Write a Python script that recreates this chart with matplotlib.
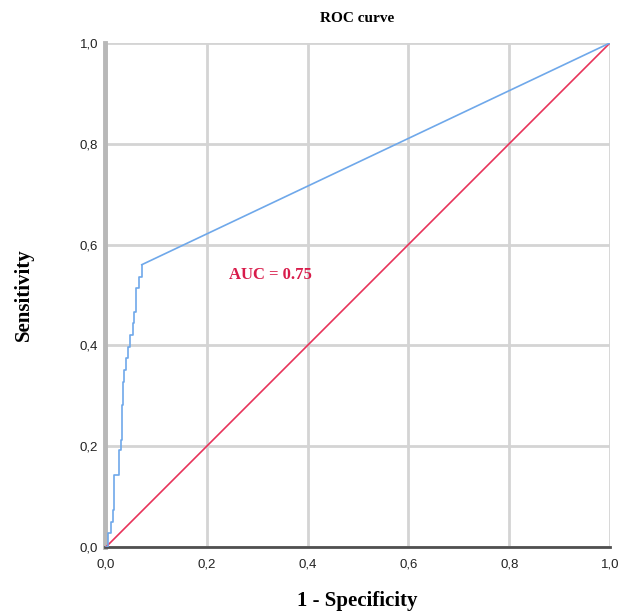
import numpy as np
import matplotlib.pyplot as plt
from matplotlib.ticker import FuncFormatter

# ROC curve corner points (fpr, tpr), stepped; last point joins (1, 1)
fpr = [0.000, 0.004, 0.009, 0.013, 0.015, 0.026, 0.030, 0.031, 0.033,
       0.036, 0.040, 0.043, 0.048, 0.053, 0.056, 0.059, 0.066, 0.071]
tpr = [0.000, 0.027, 0.050, 0.073, 0.143, 0.192, 0.212, 0.282, 0.328,
       0.351, 0.374, 0.397, 0.421, 0.444, 0.467, 0.513, 0.536, 0.560]
end_point = (1.0, 1.0)
ref_line = [0.0, 1.0]
auc = 0.75
ticks = [0.0, 0.2, 0.4, 0.6, 0.8, 1.0]

fig = plt.figure(figsize=(6.19, 6.13), dpi=100)
ax = fig.add_axes([0.1696, 0.1077, 0.8159, 0.8223])

blue = '#6fa8ea'
red = '#e8335a'

for t in ticks:
    ax.axvline(t, color='#d4d4d4', lw=2, zorder=0)
    ax.axhline(t, color='#d4d4d4', lw=2, zorder=0)

ax.plot(ref_line, ref_line, color=red, lw=1.2, zorder=3)
ax.plot(fpr, tpr, color=blue, lw=1.2, drawstyle='steps-post', zorder=4)
ax.plot([fpr[-1], end_point[0]], [tpr[-1], end_point[1]], color=blue, lw=1.2, zorder=4)

ax.text(0.245, 0.54, f'AUC = {auc}', color='#d81b4a', fontsize=12,
        fontweight='bold', family='Liberation Serif', va='center', ha='left')

ax.set_xlim(-0.002, 1.0)
ax.set_ylim(0, 1.0)
ax.set_xticks(ticks)
ax.set_yticks(ticks)
fmt = FuncFormatter(lambda v, p: f'{v:.1f}'.replace('.', ','))
ax.xaxis.set_major_formatter(fmt)
ax.yaxis.set_major_formatter(fmt)
ax.tick_params(axis='x', length=0, labelsize=9.5, labelcolor='#222222', pad=8)
ax.tick_params(axis='y', length=0, labelsize=9.5, labelcolor='#222222', pad=5)
for lab in ax.get_xticklabels() + ax.get_yticklabels():
    lab.set_family('Liberation Sans')

for s in ['top', 'right']:
    ax.spines[s].set_visible(False)
ax.spines['left'].set_color('#b8b8b8')
ax.spines['left'].set_linewidth(3.5)
ax.spines['bottom'].set_color('#505050')
ax.spines['bottom'].set_linewidth(2)

ax.set_title('ROC curve', fontsize=11, fontweight='bold', family='Liberation Serif', pad=15)
ax.set_xlabel('1 - Specificity', fontsize=15, fontweight='bold', family='Liberation Serif', labelpad=15)
ax.set_ylabel('Sensitivity', fontsize=15, fontweight='bold', family='Liberation Serif', labelpad=33)

fig.savefig('out.png', dpi=100)
